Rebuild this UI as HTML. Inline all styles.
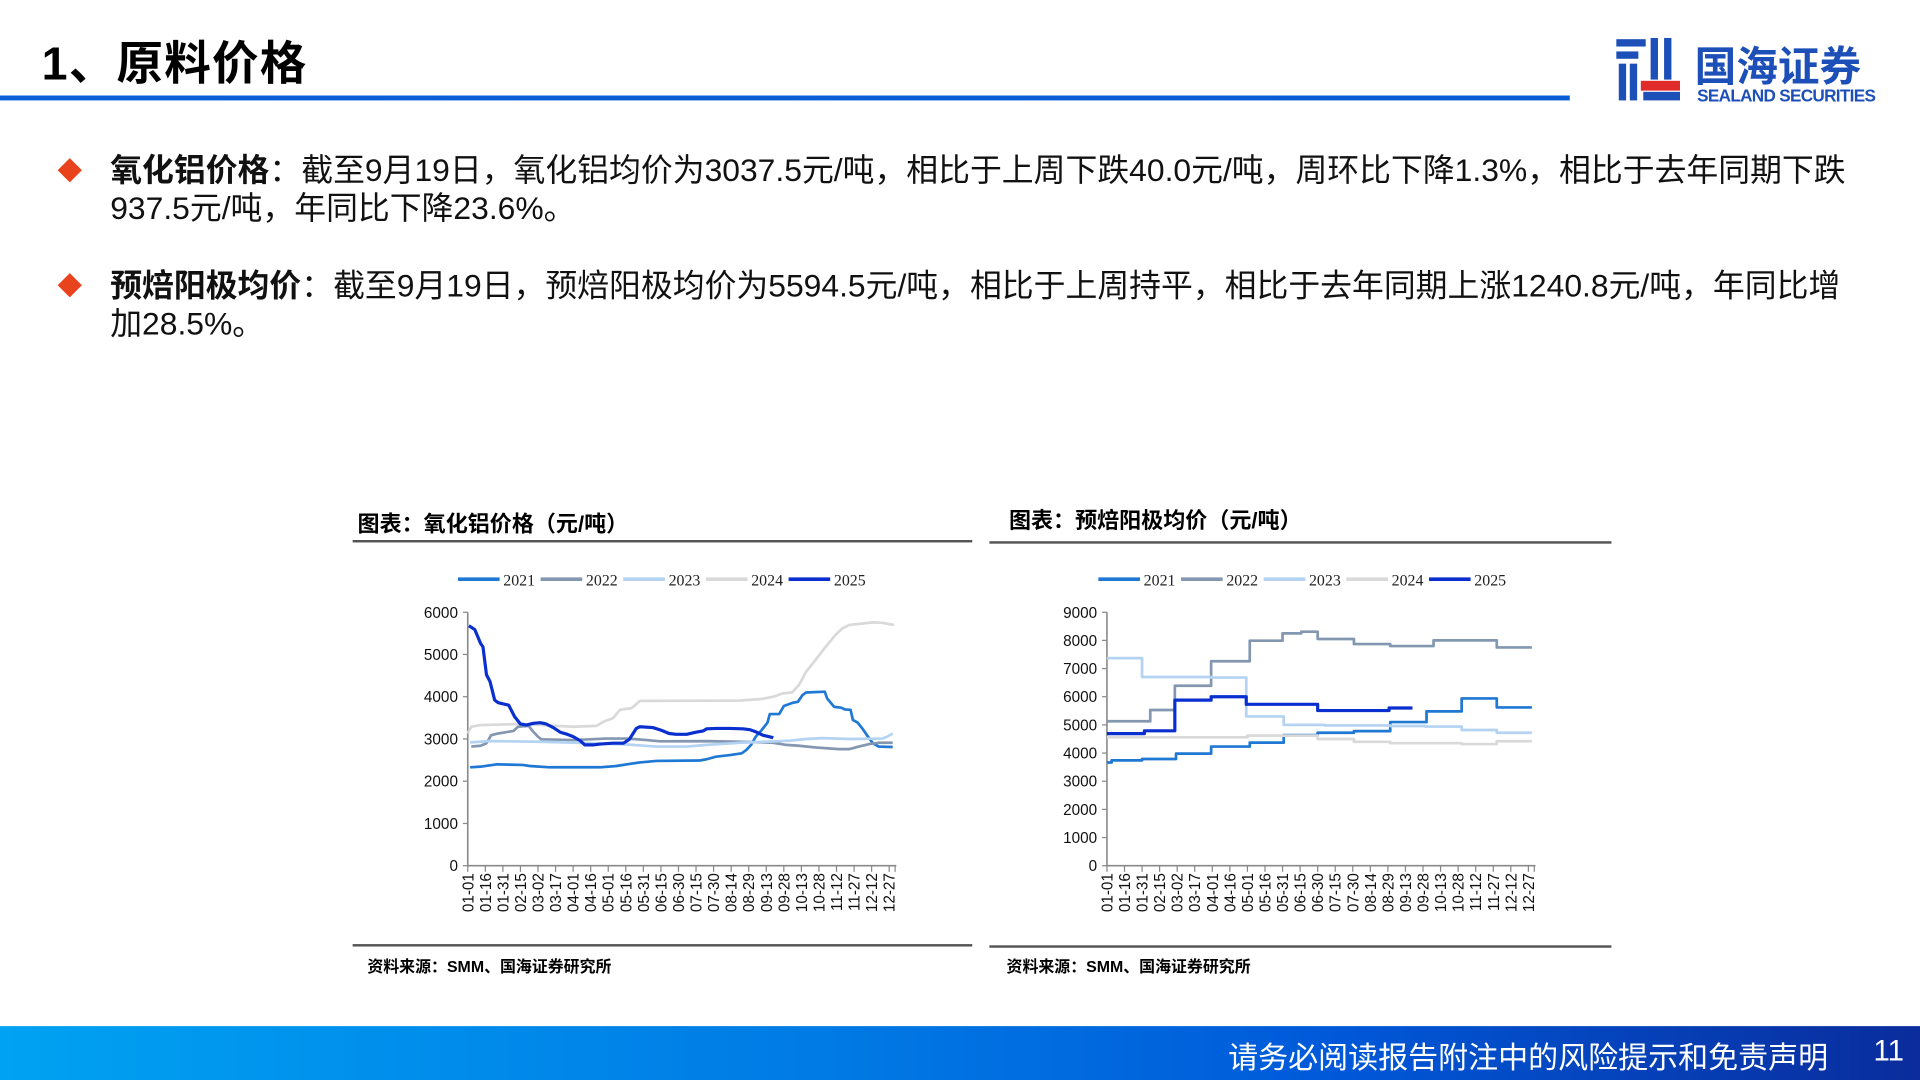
<!DOCTYPE html>
<html><head><meta charset="utf-8">
<style>
html,body{margin:0;padding:0;background:#fff;overflow:hidden;}
#page{position:absolute;left:0;top:0;width:1568px;height:882px;transform:scale(1.2244898);transform-origin:0 0;font-family:"Liberation Sans","Noto Sans CJK SC",sans-serif;color:#000;}
.abs{position:absolute;}
.title{left:34px;top:21px;font-size:38px;font-weight:bold;letter-spacing:1px;}
.topline{left:0;top:78px;width:1282px;height:4px;background:linear-gradient(90deg,#0a5fd8,#0a5cd4);}
.bullet{left:50px;width:14px;height:14px;background:#e8431c;transform:rotate(45deg);}
.para{left:90px;width:1432px;font-size:26px;line-height:31px;color:#111;}
.ctitle{font-size:18px;font-weight:bold;}
.hline{height:2px;background:#555;}
.src{font-size:13px;font-weight:bold;}
.footer{left:0;top:838px;width:1568px;height:44px;background:linear-gradient(90deg,#00a2f2 0%,#0078e4 45%,#0058d8 70%,#0a2c9c 100%);}
</style></head><body>
<div id="page">
<div class="abs title">1、原料价格</div>
<div class="abs topline"></div>
<div class="abs" style="left:1316px;top:28px;width:220px;height:62px;">
<svg width="220" height="62" viewBox="0 0 220 62">
<g fill="#1d4fb8"><rect x="4" y="4" width="24" height="6"/><rect x="4" y="14" width="18" height="6"/><rect x="6" y="24" width="6" height="30"/><rect x="15" y="24" width="6" height="30"/><rect x="32" y="3" width="6" height="34"/><rect x="43" y="3" width="6" height="34"/><rect x="26" y="47" width="30" height="7"/></g>
<rect x="24" y="38" width="32" height="8" fill="#e02b2b"/>
<text x="68" y="38" font-size="34" font-weight="bold" fill="#1d4fb8" font-family="Noto Sans CJK SC,sans-serif">国海证券</text>
<text x="70" y="55" font-size="14" font-weight="bold" fill="#1d4fb8" font-family="Liberation Sans,sans-serif" textLength="146">SEALAND SECURITIES</text>
</svg></div>

<div class="abs bullet" style="top:132px;"></div>
<div class="abs para" style="top:124px;"><b>氧化铝价格</b>：截至9月19日，氧化铝均价为3037.5元/吨，相比于上周下跌40.0元/吨，周环比下降1.3%，相比于去年同期下跌937.5元/吨，年同比下降23.6%。</div>
<div class="abs bullet" style="top:226px;"></div>
<div class="abs para" style="top:218px;"><b>预焙阳极均价</b>：截至9月19日，预焙阳极均价为5594.5元/吨，相比于上周持平，相比于去年同期上涨1240.8元/吨，年同比增加28.5%。</div>

<div class="abs ctitle" style="left:292px;top:414px;">图表：氧化铝价格（元/吨）</div>
<div class="abs hline" style="left:288px;top:441px;width:506px;"></div>
<div class="abs ctitle" style="left:824px;top:411px;">图表：预焙阳极均价（元/吨）</div>
<div class="abs hline" style="left:808px;top:442px;width:508px;"></div>
<div class="abs hline" style="left:288px;top:771px;width:506px;"></div>
<div class="abs hline" style="left:808px;top:772px;width:508px;"></div>
<div class="abs src" style="left:300px;top:779px;">资料来源：SMM、国海证券研究所</div>
<div class="abs src" style="left:822px;top:779px;">资料来源：SMM、国海证券研究所</div>

<svg class="abs" style="left:0;top:0" width="1568" height="882" id="charts"></svg>

<div class="abs footer"></div>
<div class="abs" style="left:1003px;top:845px;font-size:24.5px;color:#fff;">请务必阅读报告附注中的风险提示和免责声明</div>
<div class="abs" style="left:1530px;top:845px;font-size:24px;color:#fff;">11</div>
</div>
<script>
const seriesNames=["2021","2022","2023","2024","2025"];
const seriesColors=["#1f78d4","#8497b0","#b4d3f2","#d9d9d9","#0a2fcf"];
const xTickLabels=["01-01","01-16","01-31","02-15","03-02","03-17","04-01","04-16","05-01","05-16","05-31","06-15","06-30","07-15","07-30","08-14","08-29","09-13","09-28","10-13","10-28","11-12","11-27","12-12","12-27"];
const aluYTicks=[0,1000,2000,3000,4000,5000,6000];
const anoYTicks=[0,1000,2000,3000,4000,5000,6000,7000,8000,9000];

const alu2021Days=[2,11,25,47,53,70,113,127,138,147,161,198,204,212,224,234,238,242,246,251,256,258,266,270,278,282,286,289,305,307,313,319,322,327,329,333,337,341,346,351,363];
const alu2021Vals=[2330,2345,2400,2385,2360,2330,2330,2360,2410,2445,2480,2490,2520,2580,2620,2660,2740,2860,3055,3210,3385,3590,3590,3780,3860,3880,4040,4100,4120,3960,3760,3740,3700,3690,3450,3390,3250,3090,2900,2820,2810];
const alu2022Days=[3,11,16,20,26,39,43,52,56,60,63,90,118,136,153,164,204,232,261,272,283,297,317,326,334,343,351,363];
const alu2022Vals=[2820,2840,2900,3090,3130,3190,3290,3310,3170,3055,2990,2975,3010,3010,2975,2945,2950,2935,2910,2860,2840,2800,2760,2760,2820,2880,2910,2910];
const alu2023Days=[2,19,62,104,136,161,187,204,232,255,275,289,303,326,354,358,363];
const alu2023Vals=[2920,2950,2935,2900,2870,2820,2820,2860,2910,2935,2960,3000,3020,3000,3010,3050,3130];
const alu2024Days=[0,3,11,47,62,90,110,116,124,130,140,147,232,252,261,269,277,283,289,297,306,314,320,326,346,354,364];
const alu2024Vals=[3130,3290,3330,3355,3330,3290,3310,3410,3490,3690,3730,3900,3910,3950,4000,4080,4100,4280,4590,4870,5190,5460,5620,5700,5760,5750,5700];
const alu2025Days=[1,6,11,13,16,19,23,26,35,37,40,45,50,56,62,67,73,79,84,90,96,100,107,113,124,133,138,144,147,158,165,172,178,187,195,201,204,212,224,235,241,246,252,261];
const alu2025Vals=[5680,5590,5260,5180,4520,4360,3920,3860,3800,3690,3530,3355,3330,3370,3385,3355,3270,3160,3120,3055,2960,2860,2860,2880,2900,2900,2990,3250,3290,3270,3210,3130,3110,3110,3160,3190,3240,3250,3250,3240,3220,3170,3090,3030];

const ano2021Days=[0,4,30,59,89,122,151,180,211,242,273,303,333,363];
const ano2021Vals=[3665,3740,3790,3980,4230,4370,4640,4720,4780,5100,5480,5940,5620,5620];
const ano2022Days=[0,37,58,89,122,150,166,180,211,242,279,333,363];
const ano2022Vals=[5130,5530,6390,7260,7990,8250,8310,8050,7870,7800,8000,7750,7750];
const ano2023Days=[0,30,89,119,151,186,242,272,303,333,363];
const ano2023Vals=[7370,6700,6680,5300,5000,4980,4960,4940,4820,4720,4720];
const ano2024Days=[0,120,180,211,242,303,333,363];
const ano2024Vals=[4560,4620,4500,4400,4350,4320,4420,4420];
const ano2025Days=[0,32,58,89,119,180,241,261];
const ano2025Vals=[4690,4790,5880,6000,5730,5510,5600,5600];

const NS="http://www.w3.org/2000/svg";
const root=document.getElementById('charts');
function mk(tag,attrs,parent){const e=document.createElementNS(NS,tag);for(const k in attrs)e.setAttribute(k,attrs[k]);(parent||root).appendChild(e);return e;}

function drawChart(cfg){
  const g=mk('g',{});
  
  
  const xs=d=>cfg.x0+d/364*(cfg.x1-cfg.x0);
  const ys=v=>cfg.y0-v/cfg.ymax*(cfg.y0-cfg.y1);
  const lx=cfg.legendX;
  seriesNames.forEach((n,i)=>{
    const lg=mk('g',{},g);
    
    
    const bx=lx+i*67.5;
    mk('line',{x1:bx,y1:473,x2:bx+34,y2:473,stroke:seriesColors[i],'stroke-width':3},lg);
    const t=mk('text',{x:bx+37,y:478,'font-size':13,'font-family':'Liberation Serif,serif',fill:'#222'},lg);t.textContent=n;
  });
  const ax=mk('line',{x1:cfg.x0,y1:cfg.y1,x2:cfg.x0,y2:cfg.y0,stroke:'#888','stroke-width':1.3},g);
  
  
  const bx=mk('line',{x1:cfg.x0,y1:cfg.y0,x2:cfg.x1+2,y2:cfg.y0,stroke:'#888','stroke-width':1.3},g);
  
  
  cfg.yticks.forEach(v=>{
    const y=ys(v);
    mk('line',{x1:cfg.x0-4,y1:y,x2:cfg.x0,y2:y,stroke:'#888','stroke-width':1},g);
    const t=mk('text',{x:cfg.x0-8,y:y+4.5,'text-anchor':'end','font-size':12.5,fill:'#111'},g);
    
    
    t.textContent=v;
  });
  xTickLabels.forEach((lab,i)=>{
    const x=xs(i*15);
    mk('line',{x1:x,y1:cfg.y0,x2:x,y2:cfg.y0+5,stroke:'#888','stroke-width':1},g);
    const t=mk('text',{x:0,y:0,'text-anchor':'end','font-size':12.5,fill:'#111',transform:`translate(${x+4.5},${cfg.y0+6}) rotate(-90)`},g);
    
    
    t.textContent=lab;
  });
  mk('line',{x1:cfg.x1+1,y1:cfg.y0,x2:cfg.x1+1,y2:cfg.y0+5,stroke:'#888','stroke-width':1},g);
  cfg.series.forEach((s,i)=>{
    let d='';
    s[0].forEach((day,j)=>{
      const x=xs(day),y=ys(s[1][j]);
      if(j===0)d+=`M${x},${y}`;
      else if(cfg.step)d+=`H${x}V${y}`;
      else d+=`L${x},${y}`;
    });
    const p=mk('path',{d:d,fill:'none',stroke:seriesColors[i],'stroke-width':i===4?2.6:2.2,'stroke-linejoin':'round'},g);
    
    
  });
}
drawChart({name:'alumina-price-chart',x0:382,x1:730,y0:707,y1:500,ymax:6000,yticks:aluYTicks,legendX:374,step:false,
  series:[[alu2021Days,alu2021Vals],[alu2022Days,alu2022Vals],[alu2023Days,alu2023Vals],[alu2024Days,alu2024Vals],[alu2025Days,alu2025Vals]]});
drawChart({name:'anode-price-chart',x0:904,x1:1252,y0:707,y1:500,ymax:9000,yticks:anoYTicks,legendX:897,step:true,
  series:[[ano2021Days,ano2021Vals],[ano2022Days,ano2022Vals],[ano2023Days,ano2023Vals],[ano2024Days,ano2024Vals],[ano2025Days,ano2025Vals]]});
</script>
</body></html>
